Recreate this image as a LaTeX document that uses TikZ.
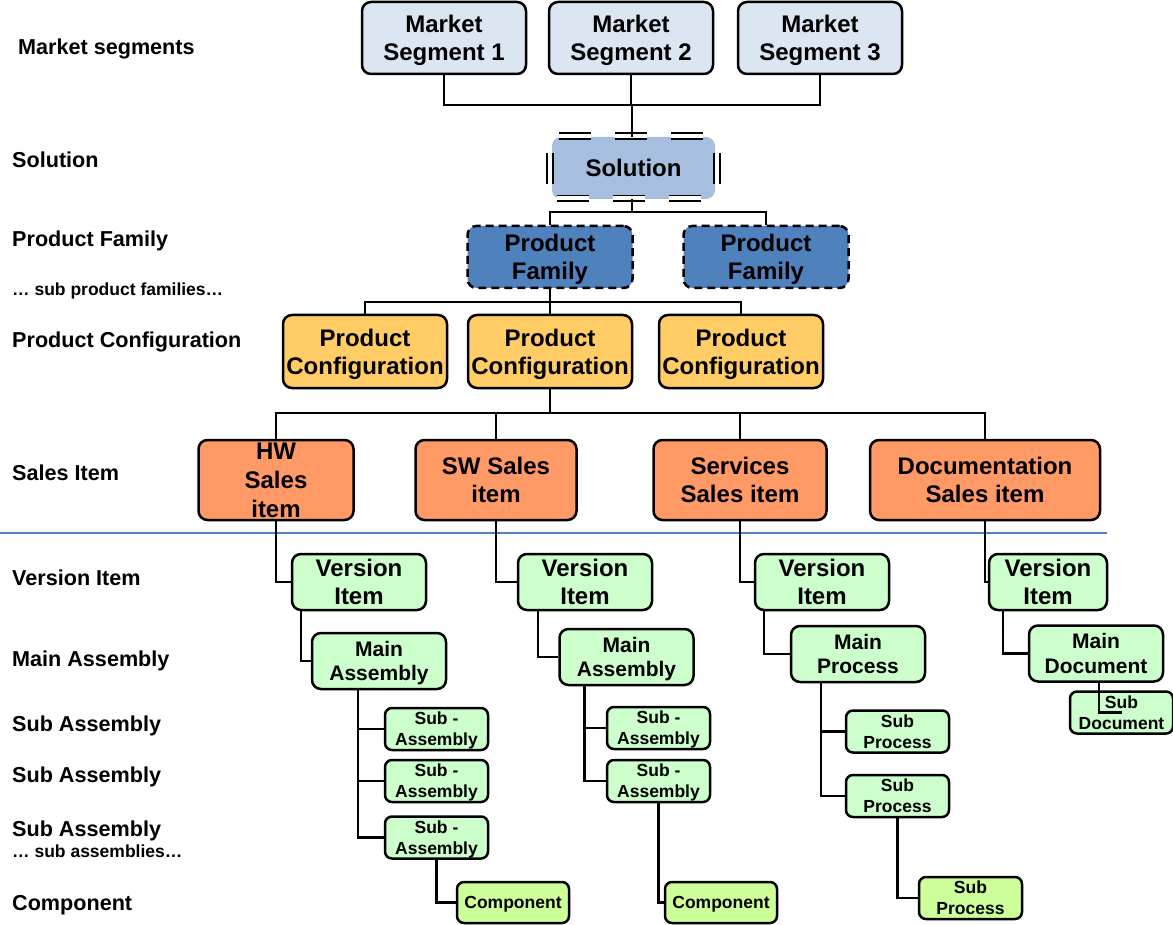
\documentclass[tikz,border=0pt]{standalone}
\usepackage{fontspec}
\setmainfont{Liberation Sans}
\definecolor{msfill}{HTML}{DCE6F2}
\definecolor{solfill}{HTML}{A7BFDE}
\definecolor{pffill}{HTML}{4F81BD}
\definecolor{pcfill}{HTML}{FFCC66}
\definecolor{sifill}{HTML}{FF9966}
\definecolor{gfill}{HTML}{CCFFCC}
\definecolor{cfill}{HTML}{CCFF99}
\definecolor{sepblue}{HTML}{4F81BD}
\tikzset{
  conn/.style={line width=2.5pt},
  basebox/.style={draw, line width=2.5pt, align=center, inner sep=0pt, text depth=0pt, rounded corners=9pt},
  bigtxt/.style={font=\fontsize{24}{28}\selectfont\bfseries},
  midtxt/.style={font=\fontsize{21}{24.3}\selectfont\bfseries},
  smalltxt/.style={font=\fontsize{17.5}{21}\selectfont\bfseries},
  lbl/.style={anchor=base west, inner sep=0pt, font=\fontsize{21.6}{24}\selectfont\bfseries},
  sublbl/.style={anchor=base west, inner sep=0pt, font=\fontsize{17.5}{20}\selectfont\bfseries},
  msbox/.style={basebox, bigtxt, fill=msfill, minimum width=164pt, minimum height=72pt},
  solbox/.style={fill=solfill, rounded corners=9pt, inner sep=0pt, text depth=0pt, bigtxt, minimum width=163pt, minimum height=62pt},
  soledge/.style={draw=black, double=white, line width=1.9pt, double distance=4pt},
  pfbox/.style={basebox, bigtxt, fill=pffill, dash pattern=on 8pt off 5pt, minimum width=165pt, minimum height=62pt},
  pcbox/.style={basebox, bigtxt, fill=pcfill, minimum width=164pt, minimum height=73pt},
  sibox/.style={basebox, bigtxt, fill=sifill, minimum height=80pt},
  vibox/.style={basebox, font=\fontsize{24}{27.7}\selectfont\bfseries, fill=gfill, minimum width=134pt, minimum height=56pt},
  mabox/.style={basebox, midtxt, fill=gfill, minimum width=134pt, minimum height=56pt},
  subbox/.style={basebox, smalltxt, fill=gfill, rounded corners=7pt, minimum width=103pt, minimum height=42pt},
  compbox/.style={basebox, smalltxt, fill=cfill, rounded corners=7pt, minimum width=112pt, minimum height=41pt},
}
\begin{document}
\begin{tikzpicture}[x=1pt,y=-1pt]
\useasboundingbox (0,0) rectangle (1173,925);

% left labels
\node[lbl] (l1) at (18,55) {Market segments};
\node[lbl] (l2) at (12,168) {Solution};
\node[lbl] (l3) at (12,247) {Product Family};
\node[sublbl] (l4) at (12,296) {… sub product families…};
\node[lbl] (l5) at (12,348) {Product Configuration};
\node[lbl] (l6) at (12,480) {Sales Item};
\node[lbl] (l7) at (12,585) {Version Item};
\node[lbl] (l8) at (12,666) {Main Assembly};
\node[lbl] (l9) at (12,731) {Sub Assembly};
\node[lbl] (l10) at (12,782) {Sub Assembly};
\node[lbl] (l11) at (12,836) {Sub Assembly};
\node[sublbl] (l12) at (12,857) {… sub assemblies…};
\node[lbl] (l13) at (12,910) {Component};

% market segments
\node[msbox] (ms1) at (444,38) {Market\\Segment 1};
\node[msbox] (ms2) at (631,38) {Market\\Segment 2};
\node[msbox] (ms3) at (820,38) {Market\\Segment 3};

% solution
\node[solbox] (sol) at (633.5,168) {Solution};
\draw[soledge, dash pattern=on 32pt off 24pt, dash phase=47pt] (550,136) -- (717,136);
\draw[soledge, dash pattern=on 32pt off 24pt, dash phase=49pt] (550,198.5) -- (717,198.5);
\draw[soledge, dash pattern=on 31pt off 40pt, dash phase=54pt] (550,136) -- (550,198.5);
\draw[soledge, dash pattern=on 31pt off 40pt, dash phase=54pt] (717,136) -- (717,198.5);

% product families
\node[pfbox] (pf1) at (550,257) {Product\\Family};
\node[pfbox] (pf2) at (766,257) {Product\\Family};

% product configurations
\node[pcbox] (pc1) at (365,351.5) {Product\\Configuration};
\node[pcbox] (pc2) at (550,351.5) {Product\\Configuration};
\node[pcbox] (pc3) at (741,351.5) {Product\\Configuration};

% sales items
\node[sibox, minimum width=155pt, font=\fontsize{24}{29}\selectfont\bfseries] (hw) at (276,480) {HW\\Sales\\item};
\node[sibox, minimum width=161pt] (sw) at (496,480) {SW Sales\\item};
\node[sibox, minimum width=173pt] (srv) at (740,480) {Services\\Sales item};
\node[sibox, minimum width=230pt] (doc) at (985,480) {Documentation\\Sales item};

% separator
\draw[sepblue, line width=1.6pt] (0,533) -- (1107,533);

% version items
\node[vibox] (vi1) at (359,582) {Version\\Item};
\node[vibox] (vi2) at (585,582) {Version\\Item};
\node[vibox] (vi3) at (822,582) {Version\\Item};
\node[vibox, minimum width=118pt] (vi4) at (1048,582) {Version\\Item};

% main level
\node[mabox] (ma1) at (379,661) {Main\\Assembly};
\node[mabox] (ma2) at (626.5,657) {Main\\Assembly};
\node[mabox] (mp) at (858,654) {Main\\Process};
\node[mabox] (md) at (1096,653.5) {Main\\Document};

% sub level
\node[subbox] (sa1a) at (436.5,729) {Sub -\\Assembly};
\node[subbox] (sa1b) at (436.5,781) {Sub -\\Assembly};
\node[subbox] (sa1c) at (436.5,837.5) {Sub -\\Assembly};
\node[subbox] (sa2a) at (658.5,728) {Sub -\\Assembly};
\node[subbox] (sa2b) at (658.5,781) {Sub -\\Assembly};
\node[subbox] (spa) at (897.5,731.5) {Sub\\Process};
\node[subbox] (spb) at (897.5,796) {Sub\\Process};
\node[subbox] (sdoc) at (1121.5,712.5) {Sub\\Document};

% components
\node[compbox] (c1) at (513,902.5) {Component};
\node[compbox] (c2) at (721,902.5) {Component};
\node[compbox, minimum width=103pt, minimum height=42pt] (spc) at (970.5,898) {Sub\\Process};

% connectors top
\coordinate (j1) at (632,105);
\draw[conn] (ms1.south) |- (j1) -| (ms3.south);
\draw[conn] (ms2.south) -- (ms2.south |- j1);
\draw[conn] (j1) -- (j1 |- sol.north);
\coordinate (j2) at (632,212);
\draw[conn] (j2 |- sol.south) -- (j2);
\draw[conn] (pf1.north) |- (j2) -| (pf2.north);
\coordinate (j3) at (550,302);
\draw[conn] (pf1.south) -- (pc2.north);
\draw[conn] (pc1.north) |- (j3) -| (pc3.north);
\coordinate (j4) at (550,413);
\draw[conn] (pc2.south) -- (j4);
\draw[conn] (hw.north) |- (j4) -| (doc.north);
\draw[conn] (sw.north) -- (sw.north |- j4);
\draw[conn] (srv.north) -- (srv.north |- j4);

% sales item -> version item
\draw[conn] (hw.south) |- (vi1.west);
\draw[conn] (sw.south) |- (vi2.west);
\draw[conn] (srv.south) |- (vi3.west);
\draw[conn] (doc.south) |- (vi4.west);

% version item -> main
\draw[conn] ([xshift=10pt]vi1.south west) |- (ma1.west);
\draw[conn] ([xshift=21pt]vi2.south west) |- (ma2.west);
\draw[conn] ([xshift=10pt]vi3.south west) |- (mp.west);
\draw[conn] ([xshift=15pt]vi4.south west) |- (md.west);

% main -> subs
\coordinate (t1) at ([xshift=47pt]ma1.south west);
\draw[conn] (t1) |- (sa1c.west);
\draw[conn] (sa1a.west) -- (sa1a.west -| t1);
\draw[conn] (sa1b.west) -- (sa1b.west -| t1);
\coordinate (t2) at ([xshift=26pt]ma2.south west);
\draw[conn] (t2) |- (sa2b.west);
\draw[conn] (sa2a.west) -- (sa2a.west -| t2);
\coordinate (t3) at ([xshift=31pt]mp.south west);
\draw[conn] (t3) |- (spb.west);
\draw[conn] (spa.west) -- (spa.west -| t3);

% subs -> components
\draw[conn] (sa1c.south) |- (c1.west);
\draw[conn] (sa2b.south) |- (c2.west);
\draw[conn] (spb.south) |- (spc.west);
\draw[conn] ([xshift=3pt]md.south) |- (sdoc.center);
\end{tikzpicture}
\end{document}
